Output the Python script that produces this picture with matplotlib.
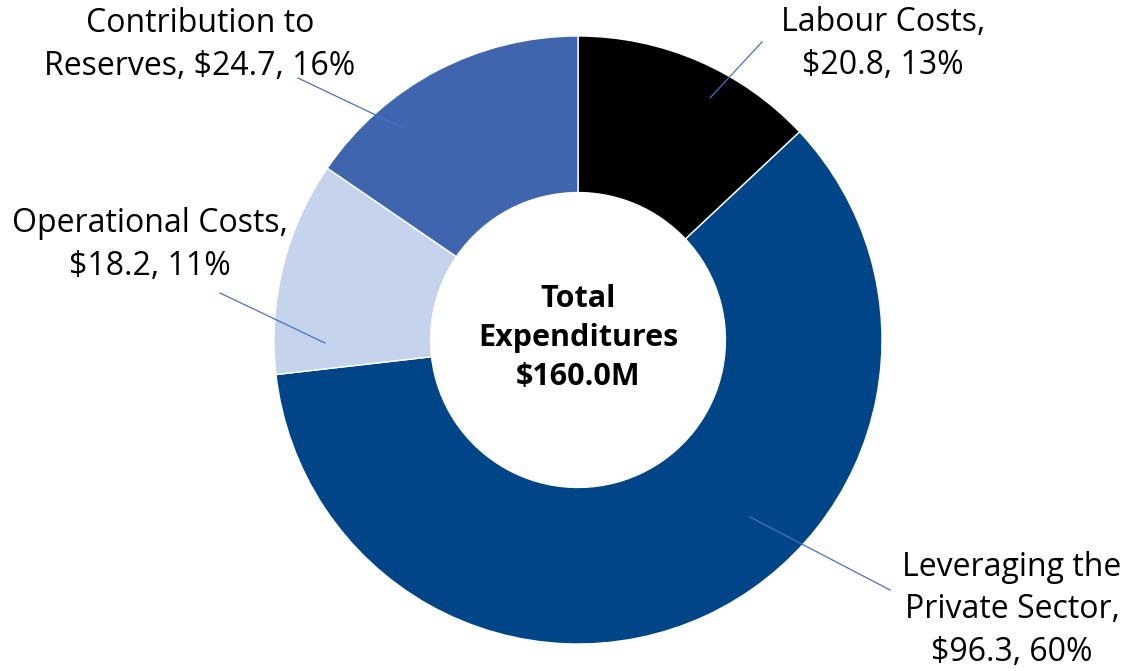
import matplotlib
matplotlib.use("Agg")
import matplotlib.pyplot as plt

# slices, clockwise from 12 o'clock
names = ["Labour Costs", "Leveraging the Private Sector", "Operational Costs",
         "Contribution to Reserves"]
values = [20.8, 96.3, 18.2, 24.7]
shares = [13, 60, 11, 16]
colors = ["#000000", "#004587", "#C5D3EC", "#3E65AD"]
total = 160.0

W, H = 1127, 671
CX, CY, R = 578, 340, 304


def px(x, y):
    # pixel position -> data units (pie radius = 1)
    return ((x - CX) / R, (CY - y) / R)


plt.rcParams["font.family"] = ["Open Sans", "DejaVu Sans"]
fig = plt.figure(figsize=(W / 100, H / 100), dpi=100)
ax = fig.add_axes([0, 0, 1, 1])

ax.pie(values, colors=colors, startangle=90, counterclock=False, radius=1,
       wedgeprops=dict(width=0.515, edgecolor="white", linewidth=1))
ax.set_xlim(-CX / R, (W - CX) / R)
ax.set_ylim(-(H - CY) / R, CY / R)
ax.set_aspect("equal")
ax.axis("off")

labels = [
    "Labour Costs,\n${:.1f}, {}%".format(values[0], shares[0]),
    "Leveraging the\nPrivate Sector,\n${:.1f}, {}%".format(values[1], shares[1]),
    "Operational Costs,\n${:.1f}, {}%".format(values[2], shares[2]),
    "Contribution to\nReserves, ${:.1f}, {}%".format(values[3], shares[3]),
]
# label centre, leader start, leader end (pixels)
spots = [
    ((883, 44), (762, 42), (710, 98)),
    ((1012, 610), (890, 590), (750, 517)),
    ((150, 245), (220, 293), (325, 343)),
    ((200, 45), (298, 78), (403, 128)),
]
for lab, (tc, ls, le) in zip(labels, spots):
    ax.plot(*zip(px(*ls), px(*le)), color="#4472C4", lw=0.9)
    ax.text(*px(*tc), lab, ha="center", va="center", fontsize=23,
            linespacing=1.37, color="#000000")

ax.text(*px(578, 338), "Total\nExpenditures\n${:.1f}M".format(total),
        ha="center", va="center", fontsize=22, fontweight="bold",
        linespacing=1.37)

fig.savefig("out.png", dpi=100)
